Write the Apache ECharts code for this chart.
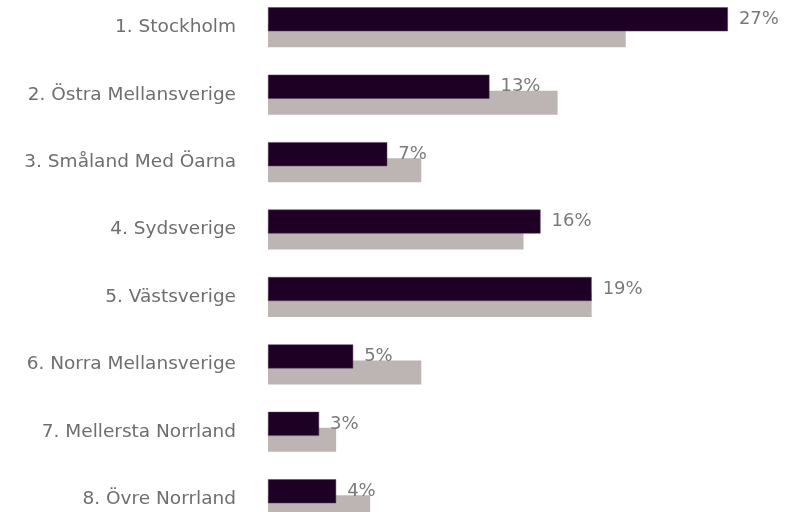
<!DOCTYPE html>
<html>
<head>
<meta charset="utf-8">
<script src="https://cdn.jsdelivr.net/npm/echarts@6/dist/echarts.min.js"></script>
<style>
html,body{margin:0;padding:0;background:#fff;}
#chart{width:802px;height:512px;}
</style>
</head>
<body>
<div id="chart"></div>
<script>
const categories = [
  "1. Stockholm",
  "2. Östra Mellansverige",
  "3. Småland Med Öarna",
  "4. Sydsverige",
  "5. Västsverige",
  "6. Norra Mellansverige",
  "7. Mellersta Norrland",
  "8. Övre Norrland"
];
const primaryValues = [27, 13, 7, 16, 19, 5, 3, 4];
const comparisonValues = [21, 17, 9, 15, 19, 9, 4, 6];

const chart = echarts.init(document.getElementById('chart'), null, {renderer: 'canvas'});
chart.setOption({
  animation: false,
  backgroundColor: '#ffffff',
  grid: {left: 268, top: -6.4, height: 539.4, width: 511, containLabel: false, outerBoundsMode: 'none'},
  xAxis: {
    type: 'value', min: 0, max: 30,
    show: false
  },
  yAxis: {
    type: 'category',
    data: categories,
    inverse: true,
    axisLine: {show: false},
    axisTick: {show: false},
    splitLine: {show: false},
    axisLabel: {
      margin: 32,
      color: '#6e6e6e',
      fontSize: 18.5,
      fontFamily: 'DejaVu Sans',
      padding: [8, 0, 0, 0]
    }
  },
  series: [
    {
      type: 'bar',
      data: primaryValues,
      barWidth: 24,
      barGap: '-33.3%',
      z: 3,
      itemStyle: {color: '#1f0025', borderColor: '#5a3d5e', borderWidth: 0.5},
      label: {
        show: true,
        position: 'right',
        distance: 11,
        formatter: '{c}%',
        color: '#7a7a7a',
        fontSize: 18,
        fontFamily: 'DejaVu Sans',
        padding: [3, 0, 0, 0]
      }
    },
    {
      type: 'bar',
      data: comparisonValues,
      barWidth: 24,
      z: 2,
      itemStyle: {color: '#bdb4b4'}
    }
  ]
});
</script>
</body>
</html>
